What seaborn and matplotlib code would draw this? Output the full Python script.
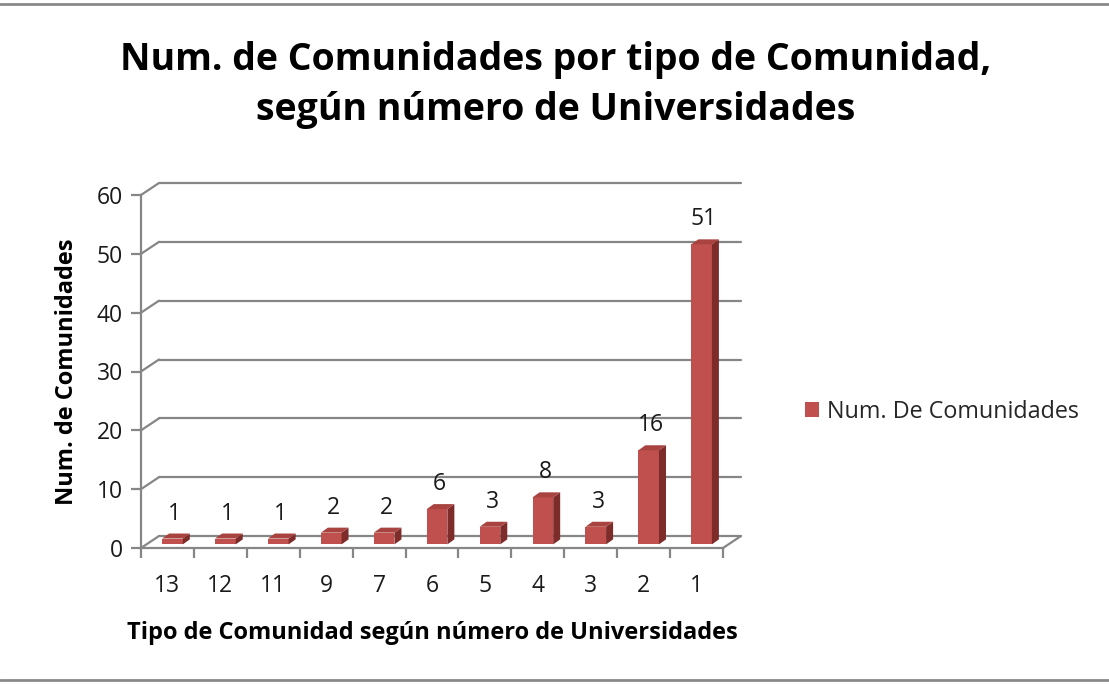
import matplotlib
matplotlib.use("Agg")
import matplotlib.pyplot as plt
import seaborn as sns
import pandas as pd
from matplotlib.patches import Polygon, Patch
from matplotlib.lines import Line2D

# datos del gráfico
tipos = ["13", "12", "11", "9", "7", "6", "5", "4", "3", "2", "1"]
num_comunidades = [1, 1, 1, 2, 2, 6, 3, 8, 3, 16, 51]
y_ticks = [0, 10, 20, 30, 40, 50, 60]

df = pd.DataFrame({"Tipo": tipos, "Num": num_comunidades})

sns.set_style("white")
plt.rcParams["font.family"] = ["Open Sans", "DejaVu Sans"]

GRIS = "#868686"
ROJO = "#C0504D"
ROJO_LADO = "#7E2C2A"
ROJO_TOPE = "#A84340"
TXT = "#1a1a1a"

W, H = 1109, 684
fig = plt.figure(figsize=(W / 100, H / 100), dpi=100)

# plano frontal de la caja 3D (en píxeles)
x0, x1, yb, yt = 141, 723, 548, 195
ax = fig.add_axes([x0 / W, 1 - yb / H, (x1 - x0) / W, (yb - yt) / H])

sns.barplot(data=df, x="Tipo", y="Num", order=tipos, color=ROJO,
            saturation=1, width=0.39, ax=ax, zorder=3)

ax.set_xlim(-0.5, len(tipos) - 0.5)
ax.set_ylim(0, 60)
ax.patch.set_alpha(0)

ux = (x1 - x0) / len(tipos)
uy = (yb - yt) / 60
ddx, ddy = 18 / ux, 12 / uy          # profundidad de la caja
bdx, bdy = 7 / ux, 5 / uy            # profundidad de cada barra
sx, sy = 0.28 * ddx, 0.3 * ddy       # desplazamiento de las barras

xl, xr = -0.5, len(tipos) - 0.5

# rejilla en el plano de fondo + diagonales al eje frontal
for t in y_ticks:
    ax.plot([xl + ddx, xr + ddx], [t + ddy, t + ddy], color=GRIS, lw=1.6,
            clip_on=False, zorder=1)
    ax.plot([xl, xl + ddx], [t, t + ddy], color=GRIS, lw=1.6,
            clip_on=False, zorder=1)
# suelo
ax.plot([xr, xr + ddx], [0, ddy], color=GRIS, lw=1.6, clip_on=False, zorder=1)

for s in ["top", "right"]:
    ax.spines[s].set_visible(False)
for s in ["left", "bottom"]:
    ax.spines[s].set_color(GRIS)
    ax.spines[s].set_linewidth(1.6)

# barras 3D
for p, v in zip(ax.patches, num_comunidades):
    p.set_x(p.get_x() + sx)
    p.set_y(sy)
    p.set_height(v)
    p.set_linewidth(0)
    bx0 = p.get_x()
    bx1 = bx0 + p.get_width()
    by0 = sy
    by1 = sy + v
    lado = Polygon([(bx1, by0), (bx1 + bdx, by0 + bdy), (bx1 + bdx, by1 + bdy), (bx1, by1)],
                   closed=True, facecolor=ROJO_LADO, edgecolor="none", zorder=3, clip_on=False)
    tope = Polygon([(bx0, by1), (bx1, by1), (bx1 + bdx, by1 + bdy), (bx0 + bdx, by1 + bdy)],
                   closed=True, facecolor=ROJO_TOPE, edgecolor="none", zorder=3, clip_on=False)
    ax.add_patch(lado)
    ax.add_patch(tope)
    ax.annotate(str(v), (bx0 + p.get_width() / 2 + bdx / 3, by1 + bdy),
                xytext=(0, 10), textcoords="offset points", ha="center", va="baseline",
                fontsize=16.5, color=TXT, annotation_clip=False)

ax.set_yticks(y_ticks)
ax.set_xticks(range(len(tipos)))
ax.set_xticklabels(tipos)
ax.set_xticks([i - 0.5 for i in range(len(tipos) + 1)], minor=True)
ax.tick_params(axis="y", left=True, length=7, width=1.6, color=GRIS,
               labelsize=16.5, labelcolor=TXT, pad=6)
ax.tick_params(axis="x", which="major", bottom=False, labelsize=16.5,
               labelcolor=TXT, pad=15)
ax.tick_params(axis="x", which="minor", bottom=True, length=7, width=1.6, color=GRIS)

ax.set_xlabel("Tipo de Comunidad según número de Universidades",
              fontsize=17, fontweight="bold", labelpad=17, color="black")
ax.set_ylabel("Num. de Comunidades", fontsize=17, fontweight="bold", labelpad=13, color="black")

fig.text(556 / W, 1 - 85 / H, "Num. de Comunidades por tipo de Comunidad,\nsegún número de Universidades",
         ha="center", va="center", fontsize=27, fontweight="bold", linespacing=1.38, color="black")

ax.legend(handles=[Patch(facecolor=ROJO, edgecolor="none")], labels=["Num. De Comunidades"],
          loc="center left", bbox_to_anchor=(784 / W, 1 - 412 / H),
          bbox_transform=fig.transFigure, frameon=False, fontsize=16.8,
          handlelength=0.6, handleheight=0.6, handletextpad=0.35)

# bordes del gráfico
for yy in [4, 680]:
    fig.add_artist(Line2D([0, 1], [1 - yy / H, 1 - yy / H], transform=fig.transFigure,
                          color="#8a8a8a", lw=2))

fig.savefig("out.png", dpi=100)
